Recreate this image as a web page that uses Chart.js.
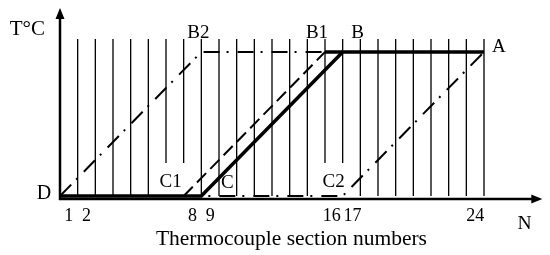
<!DOCTYPE html>
<html>
<head>
<meta charset="utf-8">
<script src="https://cdn.jsdelivr.net/npm/chart.js@4.4.1/dist/chart.umd.min.js"></script>
<style>
html,body{margin:0;padding:0;background:#fff;}
canvas{display:block;}
</style>
</head>
<body>
<canvas id="c" width="550" height="255"></canvas>
<script>
// ---- data ----
const sectionNumbers = [1,2,3,4,5,6,7,8,9,10,11,12,13,14,15,16,17,18,19,20,21,22,23,24];
const brokenSections = [6,7,15,16];          // boundaries interrupted by the C1 / C2 labels
const tickSections = [1,2,8,9,16,17,24];
const tickLabels = ['1','2','8','9','16','17','24'];
const gridTop = 109;       // top of the section boundary lines (T units, 100 = max temperature)
const brokenFrom = 23;     // where interrupted boundaries resume

// thick solid: A - B - C - D
const solidX = [24,16,8,0];
const solidY = [100,100,0,0];
// dashed: C1 - B1 - (joins top plateau)
const dashedX = [7,15,16];
const dashedY = [0,100,100];
// dash-dot 1: D - B2 - B1
const dashDot1X = [0,8,15];
const dashDot1Y = [0,100,100];
// dash-dot 2: C - C2 - A
const dashDot2X = [8,16,24];
const dashDot2Y = [0,0,100];

const pointNames = ['A','B','B1','B2','C','C1','C2','D'];
const pointX =     [24, 16, 15,  8,   8,  7,   16,  0];
const pointY =     [100,100,100, 100, 0,  0,   0,   0];

const toPts = (xs, ys) => xs.map((x,i)=>({x:x, y:ys[i]}));

const gridPts = [];
sectionNumbers.forEach(n=>{
  const y0 = brokenSections.includes(n) ? brokenFrom : 0;
  gridPts.push({x:n,y:y0},{x:n,y:gridTop},{x:n,y:null});
});

const FONT = '"Liberation Serif","Times New Roman",serif';

const labelStyle = { // offsets in px from each named point
  'A':  {dx:8,  dy:0,   align:'left'},
  'B':  {dx:15, dy:-14, align:'center'},
  'B1': {dx:-8, dy:-14, align:'center'},
  'B2': {dx:-3, dy:-14, align:'center'},
  'C':  {dx:26, dy:-8,  align:'center'},
  'C1': {dx:-13,dy:-9,  align:'center'},
  'C2': {dx:-9, dy:-9,  align:'center'},
  'D':  {dx:-16,dy:3,   align:'center'}
};
const tickNudge = {'16':-2, '17':1}; // px, keeps adjacent labels apart

const decor = {
  id:'decor',
  beforeDatasetsDraw(chart){
    const {ctx, scales:{x,y}} = chart;
    const x0 = x.getPixelForValue(0), y0 = y.getPixelForValue(0)+3;
    const xEnd = x.getPixelForValue(27.3), yEnd = y.getPixelForValue(130.5);
    ctx.save();
    ctx.strokeStyle='#000'; ctx.fillStyle='#000'; ctx.lineWidth=2.5;
    ctx.beginPath();
    ctx.moveTo(x0, y0+1); ctx.lineTo(x0, yEnd+8);
    ctx.moveTo(x0-1, y0); ctx.lineTo(xEnd-8, y0);
    ctx.stroke();
    // arrow heads
    ctx.beginPath();
    ctx.moveTo(x0, yEnd); ctx.lineTo(x0-4.5, yEnd+11); ctx.lineTo(x0+4.5, yEnd+11); ctx.closePath(); ctx.fill();
    ctx.beginPath();
    ctx.moveTo(xEnd, y0); ctx.lineTo(xEnd-11, y0-4.5); ctx.lineTo(xEnd-11, y0+4.5); ctx.closePath(); ctx.fill();
    ctx.restore();
  },
  afterDatasetsDraw(chart){
    const {ctx, scales:{x,y}} = chart;
    ctx.save();
    ctx.fillStyle='#000';
    ctx.textBaseline='alphabetic';
    // point labels
    pointNames.forEach((n,i)=>{
      const s = labelStyle[n];
      ctx.textAlign = s.align;
      ctx.font = (n==='D' ? '20px ' : '19px ') + FONT;
      ctx.fillText(n, x.getPixelForValue(pointX[i])+s.dx, y.getPixelForValue(pointY[i])+s.dy);
    });
    // tick labels (centred in each section)
    ctx.font = '18px '+FONT; ctx.textAlign='center';
    tickSections.forEach((n,i)=>{
      const t = tickLabels[i];
      ctx.fillText(t, x.getPixelForValue(n-0.5)+(tickNudge[t]||0), y.getPixelForValue(0)+25);
    });
    // axis titles
    ctx.font = '21px '+FONT; ctx.textAlign='right';
    ctx.fillText('T°C', x.getPixelForValue(0)-15, y.getPixelForValue(0)-161);
    ctx.font = '19.5px '+FONT; ctx.textAlign='center';
    ctx.fillText('N', x.getPixelForValue(26.3), y.getPixelForValue(0)+33);
    ctx.font = '21.5px '+FONT; ctx.textAlign='center';
    ctx.fillText('Thermocouple section numbers', x.getPixelForValue(13.1), y.getPixelForValue(0)+49);
    ctx.restore();
  }
};

const base = {showLine:true, pointRadius:0, pointHoverRadius:0, borderColor:'#000', backgroundColor:'#000', tension:0, clip:false, fill:false};

new Chart(document.getElementById('c'), {
  type:'scatter',
  data:{datasets:[
    Object.assign({}, base, {label:'sections', data:gridPts, borderWidth:1.3, spanGaps:false}),
    Object.assign({}, base, {label:'dashed', data:toPts(dashedX,dashedY), borderWidth:2,
      segment:{borderDash: c => c.p0.parsed.y===c.p1.parsed.y ? [] : [13,6],
               borderWidth: c => c.p0.parsed.y===c.p1.parsed.y ? 3.5 : 2}}),
    Object.assign({}, base, {label:'dashdot1', data:toPts(dashDot1X,dashDot1Y), borderWidth:2, borderDash:[16,7,2,9]}),
    Object.assign({}, base, {label:'dashdot2', data:toPts(dashDot2X,dashDot2Y), borderWidth:2, borderDash:[16,7,2,9], borderDashOffset:16}),
    Object.assign({}, base, {label:'solid', data:toPts(solidX,solidY), borderWidth:3.5, borderJoinStyle:'miter'})
  ]},
  options:{
    responsive:false, animation:false, devicePixelRatio:1,
    layout:{padding:{left:60,right:66,top:52,bottom:59}},
    scales:{
      x:{type:'linear', min:0, max:24, display:false},
      y:{type:'linear', min:0, max:100, display:false}
    },
    plugins:{legend:{display:false}, tooltip:{enabled:false}}
  },
  plugins:[decor]
});
</script>
</body>
</html>
